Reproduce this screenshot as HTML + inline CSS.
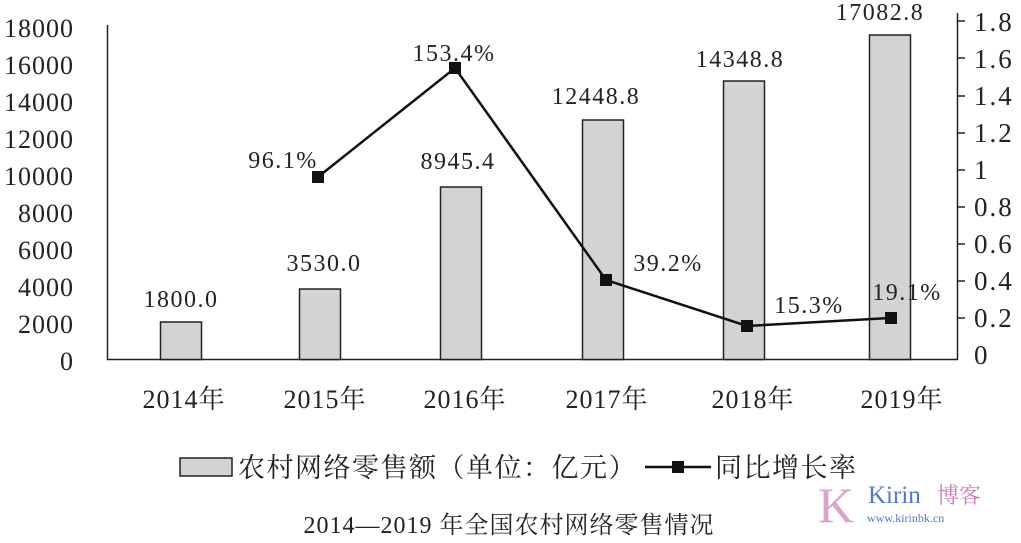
<!DOCTYPE html>
<html><head><meta charset="utf-8"><style>
html,body{margin:0;padding:0;background:#fff;}
svg{display:block;}
text{font-family:"Liberation Serif","Noto Serif CJK SC",serif;fill:#222;}
</style></head><body>
<svg width="1021" height="543" viewBox="0 0 1021 543" xmlns="http://www.w3.org/2000/svg">
<g font-size="26" text-anchor="end" letter-spacing="1">
<text x="74" y="37">18000</text><text x="74" y="74">16000</text><text x="74" y="111">14000</text>
<text x="74" y="148">12000</text><text x="74" y="185">10000</text><text x="74" y="222">8000</text>
<text x="74" y="259">6000</text><text x="74" y="296">4000</text><text x="74" y="333">2000</text>
<text x="74" y="370">0</text>
</g>
<g font-size="27" text-anchor="start" letter-spacing="2">
<text x="974" y="31">1.8</text><text x="974" y="68">1.6</text><text x="974" y="105">1.4</text>
<text x="974" y="142">1.2</text><text x="974" y="179">1</text><text x="974" y="216">0.8</text>
<text x="974" y="253">0.6</text><text x="974" y="290">0.4</text><text x="974" y="327">0.2</text>
<text x="974" y="364">0</text>
</g>
<line x1="107.5" y1="25" x2="107.5" y2="360" stroke="#222" stroke-width="1.5"/>
<line x1="107" y1="359.5" x2="958" y2="359.5" stroke="#222" stroke-width="1.5"/>
<line x1="957.5" y1="13" x2="957.5" y2="360" stroke="#222" stroke-width="1.5"/>
<g stroke="#222" stroke-width="1.5">
<line x1="957" y1="21" x2="965" y2="21"/><line x1="957" y1="58" x2="965" y2="58"/><line x1="957" y1="96" x2="965" y2="96"/>
<line x1="957" y1="133" x2="965" y2="133"/><line x1="957" y1="170" x2="965" y2="170"/><line x1="957" y1="207" x2="965" y2="207"/>
<line x1="957" y1="244" x2="965" y2="244"/><line x1="957" y1="281" x2="965" y2="281"/><line x1="957" y1="318" x2="965" y2="318"/>
</g>
<g fill="#d3d3d3" stroke="#222" stroke-width="1.5">
<rect x="160.5" y="322" width="41" height="37.5"/>
<rect x="299.5" y="289" width="41" height="70.5"/>
<rect x="440.5" y="187" width="41" height="172.5"/>
<rect x="582.5" y="120" width="41" height="239.5"/>
<rect x="723.5" y="81" width="41" height="278.5"/>
<rect x="869.5" y="35" width="41" height="324.5"/>
</g>
<g font-size="24" text-anchor="middle" letter-spacing="1.5">
<text x="181" y="307">1800.0</text><text x="324" y="271">3530.0</text><text x="458" y="169">8945.4</text>
<text x="596" y="104">12448.8</text><text x="740" y="67">14348.8</text><text x="880" y="20">17082.8</text>
</g>
<polyline points="318,177 455,68 606,280 747,326 891,318" fill="none" stroke="#111" stroke-width="2.5"/>
<g fill="#111">
<rect x="312" y="171" width="12" height="12"/><rect x="449" y="62" width="12" height="12"/>
<rect x="600" y="274" width="12" height="12"/><rect x="741" y="320" width="12" height="12"/>
<rect x="885" y="312" width="12" height="12"/>
</g>
<g font-size="24" text-anchor="middle" letter-spacing="1.5">
<text x="283" y="168">96.1%</text><text x="454" y="61">153.4%</text><text x="668" y="271">39.2%</text>
<text x="809" y="313">15.3%</text><text x="907" y="300">19.1%</text>
</g>
<g font-size="26" text-anchor="middle" letter-spacing="1">
<text x="184" y="408">2014年</text><text x="325" y="408">2015年</text><text x="465" y="408">2016年</text>
<text x="607" y="408">2017年</text><text x="753" y="408">2018年</text><text x="902" y="408">2019年</text>
</g>
<rect x="180" y="458" width="52" height="18" fill="#d3d3d3" stroke="#222" stroke-width="1.5"/>
<text x="238" y="477" font-size="27" letter-spacing="1.5">农村网络零售额（单位：亿元）</text>
<line x1="645" y1="467" x2="711" y2="467" stroke="#111" stroke-width="2.5"/>
<rect x="672" y="461" width="12" height="12" fill="#111"/>
<text x="715" y="477" font-size="27" letter-spacing="1.5">同比增长率</text>
<text x="509" y="533" font-size="24" text-anchor="middle" letter-spacing="1">2014—2019 年全国农村网络零售情况</text>
<text x="818" y="522" font-size="50" style="fill:#d9a3cc" font-family="Liberation Sans,sans-serif">K</text>
<text x="868" y="503" font-size="25" style="fill:#5577cc">Kirin</text>
<text x="937" y="503" font-size="22" style="fill:#d07ab8">博客</text>
<text x="867" y="522" font-size="12" style="fill:#5577cc" font-family="Liberation Sans,sans-serif">www.kirinbk.cn</text>
</svg>
</body></html>
